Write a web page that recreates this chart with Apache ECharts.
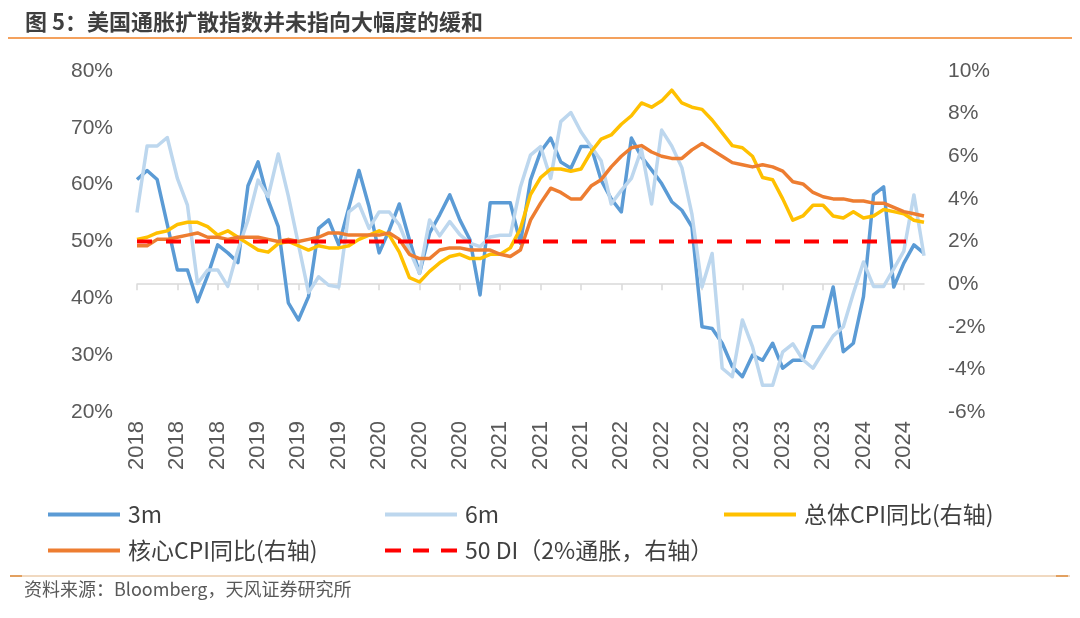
<!DOCTYPE html>
<html>
<head>
<meta charset="utf-8">
<script src="https://cdn.jsdelivr.net/npm/echarts@6/dist/echarts.min.js"></script>
<style>
html,body{margin:0;padding:0;background:#fff;}
#c{width:1080px;height:618px;}
</style>
</head>
<body>
<div id="c"></div>
<script>
// ---- data ----
const months = [
'2018-01','2018-02','2018-03','2018-04','2018-05','2018-06','2018-07','2018-08','2018-09','2018-10','2018-11','2018-12',
'2019-01','2019-02','2019-03','2019-04','2019-05','2019-06','2019-07','2019-08','2019-09','2019-10','2019-11','2019-12',
'2020-01','2020-02','2020-03','2020-04','2020-05','2020-06','2020-07','2020-08','2020-09','2020-10','2020-11','2020-12',
'2021-01','2021-02','2021-03','2021-04','2021-05','2021-06','2021-07','2021-08','2021-09','2021-10','2021-11','2021-12',
'2022-01','2022-02','2022-03','2022-04','2022-05','2022-06','2022-07','2022-08','2022-09','2022-10','2022-11','2022-12',
'2023-01','2023-02','2023-03','2023-04','2023-05','2023-06','2023-07','2023-08','2023-09','2023-10','2023-11','2023-12',
'2024-01','2024-02','2024-03','2024-04','2024-05','2024-06','2024-07'
];
// diffusion index, 3-month (left axis, %)
const di3m = [
60.9,62.5,60.9,53.0,45.0,45.0,39.4,44.0,49.4,48.0,46.3,59.8,
64.0,57.3,52.6,39.2,36.2,40.3,52.3,53.8,49.4,56.0,62.5,56.1,
48.0,52.0,56.6,50.3,44.4,51.5,54.7,58.2,53.8,50.3,40.6,56.8,
56.8,56.8,49.7,60.8,65.8,68.2,64.0,62.9,66.7,66.7,60.8,57.5,
55.2,68.2,64.9,62.6,60.2,57.0,55.5,52.6,35.0,34.7,32.1,28.0,
26.2,30.0,29.1,32.1,27.7,29.1,29.1,35.0,35.0,42.0,30.6,32.1,
40.3,58.2,59.6,42.0,46.2,49.4,47.9
];
// diffusion index, 6-month (left axis, %)
const di6m = [
55.1,66.8,66.8,68.3,61.1,56.4,42.6,45.0,45.0,42.1,48.5,53.8,
60.8,57.9,65.4,58.0,49.5,41.0,43.8,42.3,42.0,55.2,56.6,52.3,
55.2,55.2,52.9,48.5,44.4,53.8,51.0,53.5,51.2,49.7,49.1,50.8,
51.1,51.1,59.6,65.2,66.7,61.1,71.1,72.7,69.3,66.7,64.2,56.6,
59.0,61.1,66.2,56.6,69.6,66.8,63.0,54.8,42.0,47.9,27.7,26.2,
36.2,31.5,24.7,24.7,30.6,32.0,29.2,27.7,30.6,33.4,35.0,40.9,
46.4,42.1,42.1,45.2,48.3,58.2,47.5
];
// headline CPI YoY (right axis, %)
const cpiHeadline = [
2.1,2.2,2.4,2.5,2.8,2.9,2.9,2.7,2.3,2.5,2.2,1.9,
1.6,1.5,1.9,2.0,1.8,1.6,1.8,1.7,1.7,1.8,2.1,2.3,
2.5,2.3,1.5,0.3,0.1,0.6,1.0,1.3,1.4,1.2,1.2,1.4,
1.4,1.7,2.6,4.2,5.0,5.4,5.4,5.3,5.4,6.2,6.8,7.0,
7.5,7.9,8.5,8.3,8.6,9.1,8.5,8.3,8.2,7.7,7.1,6.5,
6.4,6.0,5.0,4.9,4.0,3.0,3.2,3.7,3.7,3.2,3.1,3.4,
3.1,3.2,3.5,3.4,3.3,3.0,2.9
];
// core CPI YoY (right axis, %)
const cpiCore = [
1.8,1.8,2.1,2.1,2.2,2.3,2.4,2.2,2.2,2.1,2.2,2.2,
2.2,2.1,2.0,2.1,2.0,2.1,2.2,2.4,2.4,2.3,2.3,2.3,
2.3,2.4,2.1,1.4,1.2,1.2,1.6,1.7,1.7,1.6,1.6,1.6,
1.4,1.3,1.6,3.0,3.8,4.5,4.3,4.0,4.0,4.6,4.9,5.5,
6.0,6.4,6.5,6.2,6.0,5.9,5.9,6.3,6.6,6.3,6.0,5.7,
5.6,5.5,5.6,5.5,5.3,4.8,4.7,4.3,4.1,4.0,4.0,3.9,
3.9,3.8,3.8,3.6,3.4,3.3,3.2
];
// 50 DI reference (= 2% inflation, right axis)
const di50 = [
2,2,2,2,2,2,2,2,2,2,2,2,
2,2,2,2,2,2,2,2,2,2,2,2,
2,2,2,2,2,2,2,2,2,2,2,2,
2,2,2,2,2,2,2,2,2,2,2,2,
2,2,2,2,2,2,2,2,2,2,2,2,
2,2,2,2,2,2,2,2,2,2,2,2,
2,2,2,2,2,2
];
const leftTicks = {min: 20, max: 80, interval: 10};
const rightTicks = {min: -6, max: 10, interval: 2};
const seriesNames = ['3m', '6m', '总体CPI同比(右轴)', '核心CPI同比(右轴)', '50 DI（2%通胀，右轴）'];
const titleText = '图 5：美国通胀扩散指数并未指向大幅度的缓和';
const sourceText = '资料来源：Bloomberg，天风证券研究所';

// ---- chart ----
const LAT = "'Liberation Sans',Arial,sans-serif";
const CJK = "'Noto Sans CJK SC',sans-serif";
const chart = echarts.init(document.getElementById('c'), null, {renderer: 'canvas'});

const SOLID_ICON = 'rect';
const DASH_ICON = 'path://M0,0h16v4h-16z M28,0h16v4h-16z M56,0h16v4h-16z';

function legendAt(name, left, top, icon) {
  return {
    data: [name], left: left, top: top, orient: 'horizontal',
    icon: icon, itemWidth: 72, itemHeight: 4, itemGap: 0, padding: 0,
    textStyle: {fontFamily: CJK, fontSize: 23, color: '#404040', padding: [0, 0, 0, 3]}
  };
}

const option = {
  backgroundColor: '#ffffff',
  animation: false,
  title: {
    text: titleText, left: 20, top: 6,
    textStyle: {fontFamily: CJK, fontSize: 22, fontWeight: 'bold', color: '#3f3f3f'}
  },
  graphic: [
    {type: 'line', shape: {x1: 8, y1: 38, x2: 1072, y2: 38}, style: {stroke: '#F4A15D', lineWidth: 2}},
    {type: 'line', shape: {x1: 10, y1: 576, x2: 1070, y2: 576}, style: {stroke: '#E2B382', lineWidth: 1}},
    {type: 'line', shape: {x1: 10, y1: 576, x2: 22, y2: 576}, style: {stroke: '#E2A060', lineWidth: 2}},
    {type: 'line', shape: {x1: 1056, y1: 576, x2: 1068, y2: 576}, style: {stroke: '#E2A060', lineWidth: 2}},
    {type: 'text', left: 24, top: 580, style: {text: sourceText, font: "18px 'Noto Sans CJK SC',sans-serif", fill: '#595959'}}
  ],
  legend: [
    legendAt(seriesNames[0], 48, 503, SOLID_ICON),
    legendAt(seriesNames[1], 385, 503, SOLID_ICON),
    legendAt(seriesNames[2], 724, 503, SOLID_ICON),
    legendAt(seriesNames[3], 48, 539, SOLID_ICON),
    legendAt(seriesNames[4], 385, 539, DASH_ICON)
  ],
  grid: {left: 137, right: 156, top: 71, bottom: 206, containLabel: false},
  xAxis: {
    type: 'category', data: months, boundaryGap: false,
    axisLine: {show: true, lineStyle: {color: '#D9D9D9', width: 1.5}},
    axisTick: {show: true, interval: 3, length: 6, lineStyle: {color: '#D9D9D9', width: 1.5}},
    axisLabel: {
      interval: 3, rotate: 90, margin: 9,
      fontFamily: LAT, fontSize: 22, color: '#595959',
      formatter: v => v.slice(0, 4)
    },
    splitLine: {show: false}
  },
  yAxis: [
    {
      type: 'value', position: 'left', min: leftTicks.min, max: leftTicks.max, interval: leftTicks.interval,
      axisLine: {show: false}, axisTick: {show: false}, splitLine: {show: false},
      axisLabel: {formatter: '{value}%', margin: 24, fontFamily: LAT, fontSize: 21, color: '#595959'}
    },
    {
      type: 'value', position: 'right', min: rightTicks.min, max: rightTicks.max, interval: rightTicks.interval,
      axisLine: {show: false}, axisTick: {show: false}, splitLine: {show: false},
      axisLabel: {formatter: '{value}%', margin: 24, fontFamily: LAT, fontSize: 21, color: '#595959'}
    }
  ],
  series: [
    {name: seriesNames[0], type: 'line', yAxisIndex: 0, data: di3m, symbol: 'none', color: '#5B9BD5',
     lineStyle: {width: 3.5, color: '#5B9BD5', join: 'round'}},
    {name: seriesNames[1], type: 'line', yAxisIndex: 0, data: di6m, symbol: 'none', color: '#BDD7EE',
     lineStyle: {width: 3.5, color: '#BDD7EE', join: 'round'}},
    {name: seriesNames[2], type: 'line', yAxisIndex: 1, data: cpiHeadline, symbol: 'none', color: '#FFC000',
     lineStyle: {width: 3.5, color: '#FFC000', join: 'round'}},
    {name: seriesNames[3], type: 'line', yAxisIndex: 1, data: cpiCore, symbol: 'none', color: '#ED7D31',
     lineStyle: {width: 3.5, color: '#ED7D31', join: 'round'}},
    {name: seriesNames[4], type: 'line', yAxisIndex: 1, data: di50, symbol: 'none', color: '#FF0000',
     lineStyle: {width: 4, color: '#FF0000', type: [15, 14]}}
  ]
};
chart.setOption(option);
</script>
</body>
</html>
